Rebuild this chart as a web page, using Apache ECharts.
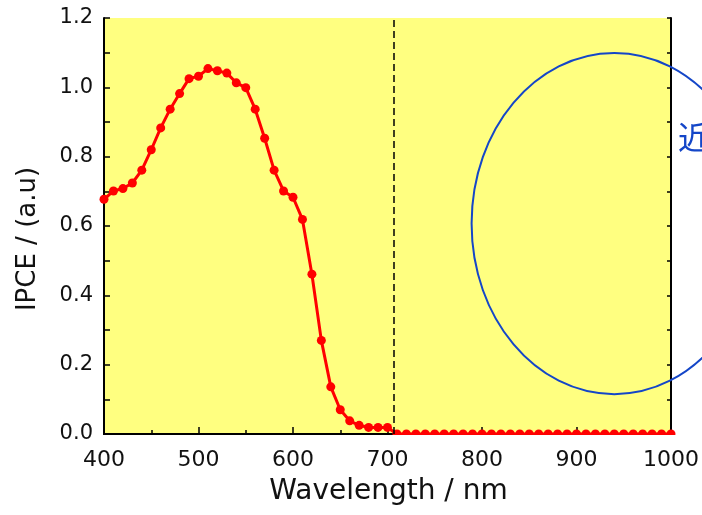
<!DOCTYPE html>
<html><head><meta charset="utf-8">
<script src="https://cdn.jsdelivr.net/npm/echarts@6/dist/echarts.min.js"></script>
<style>html,body{margin:0;padding:0;background:#fff}#c{width:702px;height:515px}</style>
</head><body><div id="c"></div>
<script>
// ---- data ----
const wavelengths = [400,410,420,430,440,450,460,470,480,490,500,510,520,530,540,550,560,570,580,590,
  600,610,620,630,640,650,660,670,680,690,700,710,720,730,740,750,760,770,780,790,
  800,810,820,830,840,850,860,870,880,890,900,910,920,930,940,950,960,970,980,990,1000];
const ipce = [0.677,0.701,0.708,0.724,0.761,0.820,0.883,0.937,0.982,1.025,1.032,1.054,1.048,1.041,1.013,0.999,0.937,0.853,0.761,0.701,
  0.683,0.619,0.461,0.270,0.136,0.070,0.038,0.025,0.019,0.019,0.019,0,0,0,0,0,0,0,0,0,
  0,0,0,0,0,0,0,0,0,0,0,0,0,0,0,0,0,0,0,0,0];
const xTickLabels = ['400','500','600','700','800','900','1000'];
const yTickLabels = ['0.0','0.2','0.4','0.6','0.8','1.0','1.2'];
const cutoffWavelength = 707;
const xTitle = 'Wavelength / nm';
const yTitle = 'IPCE / (a.u)';
const noteText = '近赤外';
// annotation ellipse (data units)
const ellipseCenter = [940, 0.607];
const ellipseRadius = [151, 0.492];

const FONT = 'DejaVu Sans';
const RED = '#ff0000';
const BLUE = '#1446c8';
const chart = echarts.init(document.getElementById('c'));
const xMin = parseFloat(xTickLabels[0]), xMax = parseFloat(xTickLabels[xTickLabels.length-1]);
const yMin = parseFloat(yTickLabels[0]), yMax = parseFloat(yTickLabels[yTickLabels.length-1]);

chart.setOption({
  animation: false,
  grid: {left: 104, right: 31, top: 18, bottom: 81, show: true, backgroundColor: '#ffff80', borderWidth: 0},
  xAxis: [{
    type: 'value', min: xMin, max: xMax, interval: 100, position: 'bottom',
    axisLine: {lineStyle: {color: '#000', width: 2}},
    axisTick: {inside: true, length: 7, lineStyle: {color: '#000', width: 1.5}},
    minorTick: {show: true, splitNumber: 2, length: 4, lineStyle: {color: '#000', width: 1.5}},
    splitLine: {show: false},
    axisLabel: {fontFamily: FONT, fontSize: 22, color: '#111', margin: 15, showMinLabel: true, showMaxLabel: true,
      formatter: v => xTickLabels[Math.round((v - xMin) / 100)]}
  }, {
    type: 'value', min: xMin, max: xMax, interval: 50, position: 'top',
    axisLine: {lineStyle: {color: '#000', width: 2}},
    axisTick: {inside: true, length: 4, lineStyle: {color: '#000', width: 1.5}},
    splitLine: {show: false}, axisLabel: {show: false}
  }],
  yAxis: [{
    type: 'value', min: yMin, max: yMax, interval: 0.2, position: 'left',
    axisLine: {show: true, lineStyle: {color: '#000', width: 2}},
    axisTick: {show: true, inside: true, length: 6, lineStyle: {color: '#000', width: 1.5}},
    minorTick: {show: true, splitNumber: 2, length: 6, lineStyle: {color: '#000', width: 1.5}},
    splitLine: {show: false},
    axisLabel: {fontFamily: FONT, fontSize: 21, color: '#111', margin: 11,
      formatter: v => yTickLabels[Math.round(v / 0.2)], showMinLabel: true, showMaxLabel: true}
  }, {
    type: 'value', min: yMin, max: yMax, interval: 0.1, position: 'right',
    axisLine: {show: true, lineStyle: {color: '#000', width: 2}},
    axisTick: {show: true, inside: true, length: 4, lineStyle: {color: '#000', width: 1.5}},
    splitLine: {show: false}, axisLabel: {show: false}
  }],
  series: [{
    type: 'line', xAxisIndex: 0, yAxisIndex: 0,
    data: wavelengths.map((w, i) => [w, ipce[i]]),
    symbol: 'circle', symbolSize: 9,
    itemStyle: {color: RED},
    lineStyle: {color: RED, width: 3},
    z: 3,
    markLine: {
      silent: true, symbol: 'none', label: {show: false},
      lineStyle: {color: '#000', type: [7, 4], width: 1.5},
      data: [{xAxis: cutoffWavelength}]
    }
  }]
});

const c = chart.convertToPixel({xAxisIndex: 0, yAxisIndex: 0}, ellipseCenter);
const e = chart.convertToPixel({xAxisIndex: 0, yAxisIndex: 0}, [ellipseCenter[0] + ellipseRadius[0], ellipseCenter[1] + ellipseRadius[1]]);
const origin = chart.convertToPixel({xAxisIndex: 0, yAxisIndex: 0}, [xMin, yMin]);
const corner = chart.convertToPixel({xAxisIndex: 0, yAxisIndex: 0}, [xMax, yMax]);

chart.setOption({
  graphic: [
    {type: 'rect', z: 100, shape: {x: origin[0] - 3, y: origin[1] + 1, width: 702, height: 10}, style: {fill: '#fff'}, silent: true},
    {type: 'ellipse', z: 50, shape: {cx: c[0], cy: c[1], rx: Math.abs(e[0] - c[0]), ry: Math.abs(e[1] - c[1])},
      style: {fill: 'none', stroke: BLUE, lineWidth: 2}, silent: true},
    {type: 'text', z: 50, x: 678, y: 137, style: {text: noteText, fontFamily: 'Noto Sans CJK JP', fontSize: 32, fill: BLUE, align: 'left', verticalAlign: 'middle'}},
    {type: 'text', z: 50, x: (origin[0] + corner[0]) / 2 + 1, y: origin[1] + 58,
      style: {text: xTitle, fontFamily: FONT, fontSize: 28, fill: '#111', align: 'center', verticalAlign: 'middle'}},
    {type: 'text', z: 50, x: 28, y: 239, rotation: Math.PI / 2,
      style: {text: yTitle, fontFamily: FONT, fontSize: 26, fill: '#111', align: 'center', verticalAlign: 'middle'}}
  ]
});
</script>
</body></html>
